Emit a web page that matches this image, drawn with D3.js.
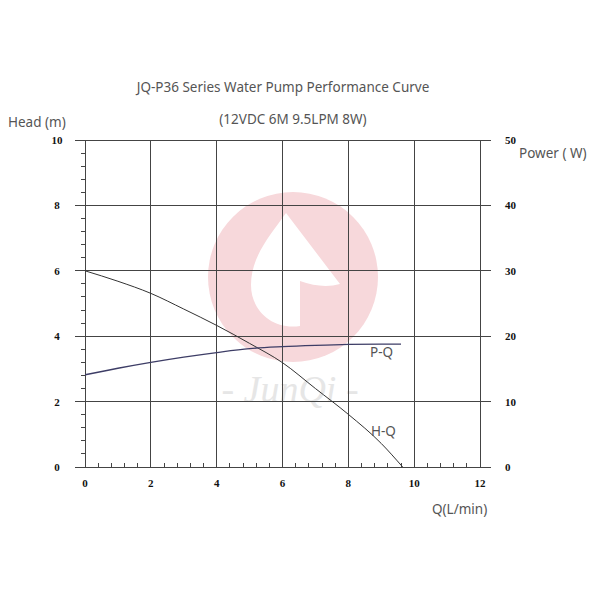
<!DOCTYPE html>
<html>
<head>
<meta charset="utf-8">
<script src="https://cdn.jsdelivr.net/npm/d3@7"></script>
<style>
  html, body { margin: 0; padding: 0; background: #fff; }
  svg { display: block; }
</style>
</head>
<body>
<svg id="chart" width="600" height="600"></svg>
<script>
// ---- data ----
const flowTicks = [0, 2, 4, 6, 8, 10, 12];
const headTicks = [0, 2, 4, 6, 8, 10];
const powerTicks = [0, 10, 20, 30, 40, 50];

const hqFlow = [0, 1, 2, 3, 4, 5, 6, 7, 8, 9, 9.65];
const hqHead = [6.0, 5.68, 5.31, 4.83, 4.33, 3.78, 3.19, 2.40, 1.61, 0.72, 0.0];

const pqFlow = [0, 1, 2, 3, 4, 5, 6, 7, 8, 9, 9.6];
const pqPower = [14.1, 15.1, 16.0, 16.8, 17.5, 18.1, 18.4, 18.6, 18.75, 18.8, 18.8];

const title = "JQ-P36 Series Water Pump Performance Curve";
const subtitle = "(12VDC 6M 9.5LPM 8W)";

// ---- layout ----
const svg = d3.select("#chart");
const x = d3.scaleLinear().domain([0, 12]).range([85, 480]);
const yH = d3.scaleLinear().domain([0, 10]).range([467, 140]);
const yP = d3.scaleLinear().domain([0, 50]).range([467, 140]);

// ---- watermark ----
const wm = svg.append("g").attr("class", "watermark");
wm.append("circle").attr("cx", 293).attr("cy", 277).attr("r", 85).attr("fill", "#f7d8db");
wm.append("path")
  .attr("d", "M286,213 L340,284 Q322,289 300,281 L300,326 C273,330 251,311 251,285 C251,257 269,237 286,213 Z")
  .attr("fill", "#fff");
wm.append("text").attr("x", 290).attr("y", 402)
  .attr("text-anchor", "middle")
  .attr("font-family", "Liberation Serif, serif").attr("font-style", "italic")
  .attr("font-size", 38).attr("fill", "#e6e6e6")
  .text("- JunQi -");

// ---- grid ----
const grid = svg.append("g").attr("stroke", "#444").attr("stroke-width", 1).attr("shape-rendering", "crispEdges");
headTicks.forEach(h => {
  grid.append("line").attr("x1", 75).attr("x2", 491).attr("y1", yH(h)).attr("y2", yH(h));
});
flowTicks.forEach(q => {
  grid.append("line").attr("x1", x(q)).attr("x2", x(q)).attr("y1", yH(10)).attr("y2", yH(0));
});
// minor ticks on left axis
d3.range(0, 10.001, 0.4).forEach(h => {
  if (Math.abs(h / 2 - Math.round(h / 2)) < 1e-6) return;
  grid.append("line").attr("x1", x(0) - 4).attr("x2", x(0)).attr("y1", yH(h)).attr("y2", yH(h));
});
// minor ticks on bottom axis
d3.range(0, 12.001, 0.4).forEach(q => {
  if (Math.abs(q / 2 - Math.round(q / 2)) < 1e-6) return;
  grid.append("line").attr("x1", x(q)).attr("x2", x(q)).attr("y1", yH(0)).attr("y2", yH(0) - 4);
});

// ---- tick labels ----
const tickFont = "Liberation Serif, serif";
const tl = svg.append("g").attr("font-family", tickFont).attr("font-weight", "bold").attr("font-size", 11).attr("fill", "#111");
headTicks.forEach(h => {
  tl.append("text").attr("x", 57).attr("y", yH(h) + 4).attr("text-anchor", "middle").text(h);
});
powerTicks.forEach(p => {
  tl.append("text").attr("x", 505).attr("y", yP(p) + 4).attr("text-anchor", "start").text(p);
});
flowTicks.forEach(q => {
  tl.append("text").attr("x", x(q)).attr("y", 487).attr("text-anchor", "middle").text(q);
});

// ---- curves ----
const lineH = d3.line().x(d => x(d[0])).y(d => yH(d[1])).curve(d3.curveMonotoneX);
const lineP = d3.line().x(d => x(d[0])).y(d => yP(d[1])).curve(d3.curveMonotoneX);
svg.append("path").datum(hqFlow.map((q, i) => [q, hqHead[i]]))
  .attr("d", lineH).attr("fill", "none").attr("stroke", "#333").attr("stroke-width", 1);
svg.append("path").datum(pqFlow.map((q, i) => [q, pqPower[i]]))
  .attr("d", lineP).attr("fill", "none").attr("stroke", "#3d3d66").attr("stroke-width", 1.3);

// ---- texts ----
const txt = svg.append("g").attr("font-family", "Noto Sans, Open Sans, sans-serif").attr("font-size", 13.5).attr("fill", "#555");
txt.append("text").attr("x", 283).attr("y", 92).attr("text-anchor", "middle").text(title);
txt.append("text").attr("x", 293).attr("y", 124).attr("text-anchor", "middle").text(subtitle);
txt.append("text").attr("x", 8).attr("y", 127).text("Head (m)");
txt.append("text").attr("x", 519).attr("y", 158).text("Power ( W)");
txt.append("text").attr("x", 432).attr("y", 514).text("Q(L/min)");
txt.append("text").attr("x", 370).attr("y", 357).text("P-Q");
txt.append("text").attr("x", 371).attr("y", 436).text("H-Q");
</script>
</body>
</html>
